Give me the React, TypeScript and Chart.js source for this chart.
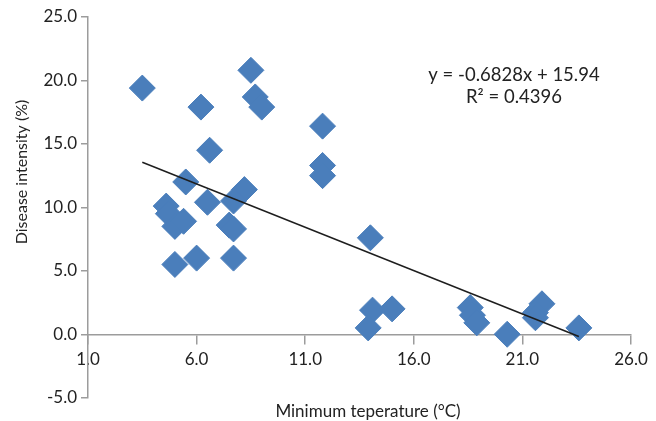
import React, { useEffect, useRef } from 'react';
import { Chart, registerables } from 'chart.js';

Chart.register(...registerables);

// Minimum temperature (°C) of each observation
const tempX = [
  3.5, 6.2, 8.5, 8.7, 9.0, 6.6, 5.5, 6.5, 8.2, 7.7,
  4.6, 4.7, 5.0, 5.4, 7.5, 7.7, 5.0, 6.0, 7.7,
  11.8, 11.8, 11.8, 14.0, 14.1, 15.0, 13.9,
  18.6, 18.7, 18.9, 20.3, 21.9, 21.6, 21.6, 23.6,
];
// Disease intensity (%) of each observation
const intensityY = [
  19.4, 17.9, 20.8, 18.7, 17.9, 14.5, 12.0, 10.4, 11.4, 10.5,
  10.1, 9.5, 8.5, 8.9, 8.6, 8.3, 5.5, 6.0, 6.0,
  16.4, 13.3, 12.5, 7.6, 1.9, 2.0, 0.5,
  2.1, 1.5, 0.9, 0.0, 2.4, 1.7, 1.3, 0.5,
];

// Linear trendline as printed on the chart
const SLOPE = -0.6828;
const INTERCEPT = 15.94;
const equationLines = ['y = -0.6828x + 15.94', 'R² = 0.4396'];

const xTicks = [1, 6, 11, 16, 21, 26];
const yTicks = [-5, 0, 5, 10, 15, 20, 25];

const xTitle = 'Minimum teperature (°C)';
const yTitle = 'Disease intensity (%)';

const FONT = 'Lato, "Open Sans", sans-serif';
const TEXT = '#222222';
const AXIS = '#9c9c9c';
const BLUE = '#4A7EBB';

const textPlugin = {
  id: 'extraTexts',
  afterDraw(chart: any) {
    const { ctx } = chart;
    ctx.save();
    ctx.fillStyle = TEXT;
    ctx.textAlign = 'center';
    ctx.textBaseline = 'middle';
    ctx.font = `17px ${FONT}`;
    ctx.fillText(xTitle, 368, 412);
    ctx.font = `18.5px ${FONT}`;
    ctx.fillText(equationLines[0], 514, 75);
    ctx.fillText(equationLines[1], 514, 97);
    ctx.font = `16px ${FONT}`;
    ctx.translate(22, 172);
    ctx.rotate(-Math.PI / 2);
    ctx.fillText(yTitle, 0, 0);
    ctx.restore();
  },
};

export default function App() {
  const ref = useRef<HTMLCanvasElement | null>(null);

  useEffect(() => {
    if (!ref.current) return;
    const points = tempX.map((x, i) => ({ x, y: intensityY[i] }));
    const xMin = Math.min(...tempX);
    const xMax = Math.max(...tempX);
    const trend = [
      { x: xMin, y: SLOPE * xMin + INTERCEPT },
      { x: xMax, y: SLOPE * xMax + INTERCEPT },
    ];

    const chart = new Chart(ref.current, {
      type: 'scatter',
      data: {
        datasets: [
          {
            type: 'line',
            label: 'Linear trend',
            data: trend,
            borderColor: '#1e1e1e',
            borderWidth: 1.5,
            pointRadius: 0,
            fill: false,
          } as any,
          {
            label: 'Disease intensity',
            data: points,
            pointStyle: 'rectRot',
            pointRadius: 13,
            pointHoverRadius: 13,
            backgroundColor: BLUE,
            borderColor: BLUE,
            borderWidth: 1,
          },
        ],
      },
      options: {
        responsive: false,
        animation: false,
        devicePixelRatio: 1,
        layout: { padding: { top: 17, right: 25, bottom: 23.3, left: 0 } },
        plugins: {
          legend: { display: false },
          tooltip: { enabled: false },
          title: { display: false },
        },
        scales: {
          x: {
            type: 'linear',
            position: { y: 0 } as any,
            min: 1,
            max: 26,
            afterBuildTicks: (s: any) => {
              s.ticks = xTicks.map((v) => ({ value: v }));
            },
            ticks: {
              color: TEXT,
              font: { family: FONT, size: 17 },
              padding: 6,
              maxRotation: 0,
              callback: (v: any) => Number(v).toFixed(1),
            },
            grid: {
              drawOnChartArea: false,
              drawTicks: true,
              tickLength: 9,
              color: AXIS,
              lineWidth: 1.5,
            },
            border: { display: true, color: AXIS, width: 1.5 },
          },
          y: {
            type: 'linear',
            position: 'left',
            min: -5,
            max: 25,
            afterBuildTicks: (s: any) => {
              s.ticks = yTicks.map((v) => ({ value: v }));
            },
            afterFit: (s: any) => {
              s.width = 88;
            },
            ticks: {
              color: TEXT,
              font: { family: FONT, size: 17 },
              padding: 4,
              callback: (v: any) => Number(v).toFixed(1),
            },
            grid: {
              drawOnChartArea: false,
              drawTicks: true,
              tickLength: 7,
              color: AXIS,
              lineWidth: 1.5,
            },
            border: { display: true, color: AXIS, width: 1.5 },
          },
        },
      },
      plugins: [textPlugin],
    });
    return () => chart.destroy();
  }, []);

  return (
    <div style={{ position: 'absolute', left: 0, top: 0, width: 656, height: 421, background: '#fff' }}>
      <canvas ref={ref} width={656} height={421} style={{ display: 'block' }} />
    </div>
  );
}
